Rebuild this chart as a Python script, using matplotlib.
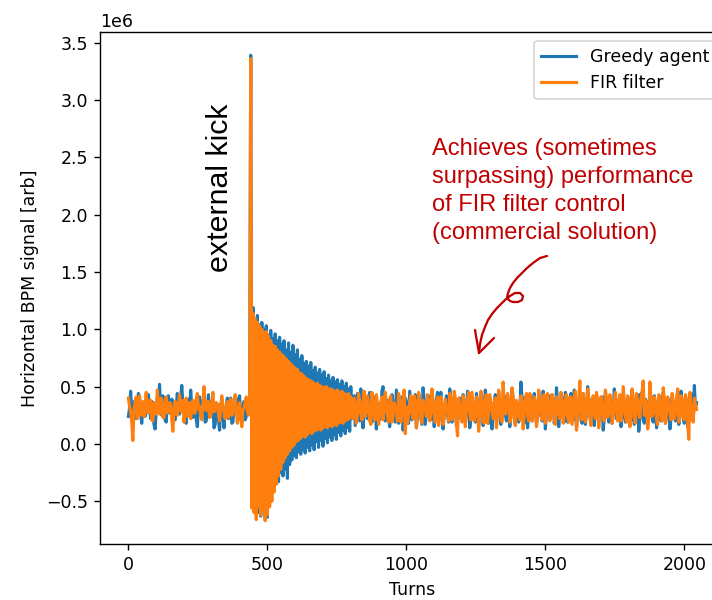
import numpy as np
import matplotlib
matplotlib.use("Agg")
import matplotlib.pyplot as plt
from matplotlib.lines import Line2D

# BPM signal in units of 1e6, one sample every 4 turns
turns = np.arange(0, 2048, 4)

# turns 0..436, before the kick
greedy_pre = [
    0.24, 0.31, 0.46, 0.28, 0.20, 0.35, 0.38, 0.22, 0.27, 0.44,
    0.41, 0.26, 0.18, 0.33, 0.35, 0.24, 0.29, 0.40, 0.43, 0.30,
    0.22, 0.37, 0.36, 0.17, 0.13, 0.29, 0.40, 0.34, 0.52, 0.31,
    0.25, 0.42, 0.33, 0.21, 0.19, 0.35, 0.42, 0.27, 0.28, 0.39,
    0.37, 0.24, 0.21, 0.32, 0.44, 0.30, 0.26, 0.40, 0.51, 0.34,
    0.30, 0.20, 0.18, 0.36, 0.39, 0.26, 0.47, 0.33, 0.23, 0.29,
    0.34, 0.22, 0.15, 0.31, 0.41, 0.28, 0.27, 0.38, 0.36, 0.19,
    0.20, 0.33, 0.43, 0.25, 0.25, 0.37, 0.32, 0.14, 0.17, 0.30,
    0.29, 0.21, 0.12, 0.34, 0.38, 0.23, 0.14, 0.30, 0.33, 0.40,
    0.22, 0.28, 0.40, 0.18, 0.19, 0.34, 0.35, 0.27, 0.26, 0.39,
    0.42, 0.24, 0.18, 0.33, 0.37, 0.21, 0.24, 0.38, 0.36, 0.30,
]
fir_pre = [
    0.40, 0.33, 0.28, 0.19, 0.03, 0.30, 0.36, 0.41, 0.22, 0.29,
    0.42, 0.25, 0.30, 0.37, 0.24, 0.33, 0.45, 0.28, 0.27, 0.38,
    0.38, 0.21, 0.20, 0.36, 0.34, 0.26, 0.47, 0.32, 0.26, 0.40,
    0.39, 0.23, 0.23, 0.35, 0.41, 0.27, 0.29, 0.36, 0.35, 0.22,
    0.11, 0.30, 0.37, 0.26, 0.25, 0.34, 0.43, 0.29, 0.28, 0.38,
    0.19, 0.31, 0.40, 0.24, 0.31, 0.36, 0.22, 0.33, 0.38, 0.27,
    0.27, 0.39, 0.44, 0.30, 0.33, 0.25, 0.21, 0.35, 0.50, 0.31,
    0.29, 0.37, 0.37, 0.23, 0.24, 0.34, 0.45, 0.28, 0.30, 0.36,
    0.35, 0.26, 0.20, 0.31, 0.42, 0.33, 0.28, 0.22, 0.33, 0.37,
    0.23, 0.30, 0.39, 0.25, 0.26, 0.35, 0.43, 0.29, 0.18, 0.27,
    0.36, 0.24, 0.15, 0.30, 0.31, 0.37, 0.41, 0.29, 0.25, 0.33,
]

# turn 440, the kick itself
greedy_peak = [3.39]
fir_peak = [3.36]

# turns 444..800, damped oscillation after the kick
greedy_ring = [
    -0.52, 1.19, -0.58, 1.08, -0.47, 1.12, -0.60, 1.04, -0.63, 1.06,
    -0.52, 1.00, -0.65, 1.03, -0.64, 0.95, -0.45, 0.99, -0.42, 0.92,
    -0.40, 0.96, -0.35, 0.90, -0.33, 0.93, -0.25, 0.87, -0.28, 0.90,
    -0.22, 0.82, -0.30, 0.88, -0.18, 0.80, -0.14, 0.86, -0.10, 0.78,
    -0.12, 0.82, -0.07, 0.74, -0.09, 0.77, -0.05, 0.70, -0.08, 0.72,
    -0.03, 0.68, -0.06, 0.71, -0.01, 0.64, -0.05, 0.67, 0.02, 0.62,
    -0.03, 0.65, 0.03, 0.60, -0.02, 0.63, 0.05, 0.57, 0.01, 0.60,
    0.06, 0.55, 0.03, 0.58, 0.08, 0.54, 0.04, 0.56, 0.10, 0.52,
    0.07, 0.55, 0.12, 0.50, 0.09, 0.53, 0.14, 0.48, 0.11, 0.50,
]
fir_ring = [
    -0.56, 1.14, -0.60, 1.09, -0.66, 1.06, -0.55, 1.03, -0.62, 1.00,
    -0.58, 0.97, -0.67, 0.98, -0.62, 0.94, -0.55, 0.90, -0.50, 0.86,
    -0.42, 0.85, -0.35, 0.82, -0.28, 0.80, -0.22, 0.78, -0.16, 0.76,
    -0.12, 0.74, -0.09, 0.72, -0.06, 0.70, -0.03, 0.68, -0.01, 0.66,
    0.02, 0.65, 0.03, 0.62, 0.05, 0.61, 0.07, 0.59, 0.06, 0.57,
    0.08, 0.56, 0.10, 0.55, 0.09, 0.54, 0.11, 0.52, 0.12, 0.53,
    0.13, 0.51, 0.12, 0.50, 0.14, 0.49, 0.15, 0.50, 0.14, 0.48,
    0.16, 0.48, 0.15, 0.47, 0.17, 0.46, 0.16, 0.47, 0.18, 0.45,
    0.19, 0.46, 0.18, 0.44, 0.20, 0.43, 0.21, 0.44, 0.22, 0.41,
]

# turns 804..2044, after damping
greedy_post = [
    0.22, 0.36, 0.42, 0.16, 0.30, 0.44, 0.25, 0.20, 0.48, 0.33,
    0.14, 0.27, 0.39, 0.31, 0.22, 0.40, 0.45, 0.26, 0.19, 0.35,
    0.41, 0.29, 0.13, 0.33, 0.35, 0.21, 0.27, 0.46, 0.50, 0.28,
    0.20, 0.37, 0.38, 0.24, 0.15, 0.30, 0.43, 0.36, 0.24, 0.19,
    0.47, 0.32, 0.18, 0.26, 0.33, 0.41, 0.12, 0.23, 0.40, 0.37,
    0.26, 0.18, 0.46, 0.33, 0.21, 0.29, 0.37, 0.43, 0.14, 0.25,
    0.44, 0.34, 0.23, 0.17, 0.49, 0.38, 0.17, 0.27, 0.36, 0.42,
    0.28, 0.21, 0.42, 0.35, 0.15, 0.24, 0.39, 0.45, 0.20, 0.31,
    0.45, 0.26, 0.13, 0.30, 0.34, 0.42, 0.25, 0.19, 0.48, 0.36,
    0.19, 0.28, 0.41, 0.33, 0.16, 0.24, 0.37, 0.40, 0.22, 0.30,
    0.43, 0.35, 0.18, 0.27, 0.46, 0.39, 0.14, 0.22, 0.38, 0.33,
    0.27, 0.19, 0.44, 0.37, 0.20, 0.29, 0.35, 0.41, 0.16, 0.26,
    0.47, 0.36, 0.23, 0.18, 0.40, 0.31, 0.13, 0.25, 0.36, 0.43,
    0.21, 0.30, 0.45, 0.34, 0.17, 0.23, 0.39, 0.42, 0.26, 0.20,
    0.42, 0.33, 0.15, 0.28, 0.48, 0.38, 0.22, 0.17, 0.37, 0.31,
    0.19, 0.26, 0.54, 0.40, 0.24, 0.18, 0.41, 0.35, 0.14, 0.27,
    0.36, 0.41, 0.20, 0.29, 0.44, 0.32, 0.17, 0.24, 0.39, 0.36,
    0.25, 0.20, 0.46, 0.34, 0.13, 0.27, 0.35, 0.42, 0.22, 0.30,
    0.43, 0.37, 0.18, 0.25, 0.49, 0.33, 0.15, 0.28, 0.38, 0.41,
    0.23, 0.19, 0.45, 0.36, 0.19, 0.26, 0.40, 0.44, 0.26, 0.21,
    0.47, 0.34, 0.14, 0.29, 0.37, 0.40, 0.21, 0.18, 0.44, 0.32,
    0.17, 0.27, 0.50, 0.38, 0.24, 0.20, 0.39, 0.35, 0.16, 0.28,
    0.42, 0.36, 0.20, 0.25, 0.36, 0.41, 0.12, 0.23, 0.45, 0.33,
    0.25, 0.19, 0.40, 0.37, 0.18, 0.27, 0.48, 0.34, 0.22, 0.29,
    0.37, 0.42, 0.15, 0.24, 0.43, 0.31, 0.19, 0.26, 0.41, 0.38,
    0.24, 0.20, 0.46, 0.35, 0.17, 0.28, 0.38, 0.43, 0.11, 0.25,
    0.44, 0.33, 0.21, 0.18, 0.39, 0.36, 0.16, 0.27, 0.47, 0.40,
    0.23, 0.19, 0.42, 0.34, 0.14, 0.26, 0.36, 0.41, 0.20, 0.30,
    0.45, 0.35, 0.18, 0.24, 0.40, 0.37, 0.13, 0.22, 0.43, 0.34,
    0.25, 0.20, 0.38, 0.41, 0.17, 0.27, 0.46, 0.36, 0.22, 0.18,
    0.41, 0.33, 0.15, 0.26, 0.39, 0.44, 0.24, 0.20, 0.51, 0.30,
    0.36,
]
fir_post = [
    0.31, 0.22, 0.40, 0.35, 0.18, 0.26, 0.44, 0.37, 0.27, 0.21,
    0.37, 0.46, 0.24, 0.29, 0.42, 0.33, 0.20, 0.17, 0.45, 0.38,
    0.26, 0.21, 0.43, 0.36, 0.17, 0.28, 0.35, 0.41, 0.21, 0.30,
    0.45, 0.34, 0.25, 0.19, 0.39, 0.42, 0.19, 0.24, 0.36, 0.31,
    0.28, 0.20, 0.44, 0.38, 0.19, 0.27, 0.40, 0.47, 0.09, 0.32,
    0.18, 0.26, 0.37, 0.42, 0.27, 0.22, 0.42, 0.35, 0.14, 0.29,
    0.45, 0.39, 0.22, 0.18, 0.38, 0.33, 0.30, 0.24, 0.43, 0.36,
    0.20, 0.28, 0.48, 0.37, 0.25, 0.19, 0.36, 0.41, 0.16, 0.26,
    0.41, 0.35, 0.17, 0.22, 0.39, 0.31, 0.28, 0.20, 0.44, 0.38,
    0.21, 0.27, 0.46, 0.40, 0.17, 0.07, 0.40, 0.34, 0.26, 0.19,
    0.42, 0.37, 0.15, 0.29, 0.38, 0.45, 0.27, 0.21, 0.45, 0.33,
    0.20, 0.26, 0.41, 0.36, 0.11, 0.23, 0.46, 0.39, 0.24, 0.18,
    0.39, 0.43, 0.18, 0.27, 0.43, 0.36, 0.29, 0.22, 0.36, 0.40,
    0.14, 0.25, 0.47, 0.38, 0.22, 0.19, 0.54, 0.34, 0.26, 0.30,
    0.44, 0.37, 0.19, 0.24, 0.49, 0.41, 0.23, 0.16, 0.38, 0.35,
    0.25, 0.21, 0.42, 0.37, 0.13, 0.27, 0.38, 0.44, 0.25, 0.20,
    0.44, 0.36, 0.20, 0.28, 0.41, 0.34, 0.15, 0.24, 0.47, 0.39,
    0.27, 0.21, 0.39, 0.43, 0.18, 0.26, 0.44, 0.36, 0.20, 0.29,
    0.43, 0.38, 0.22, 0.17, 0.41, 0.35, 0.27, 0.22, 0.45, 0.37,
    0.18, 0.26, 0.40, 0.43, 0.24, 0.19, 0.40, 0.41, 0.17, 0.28,
    0.40, 0.46, 0.12, 0.23, 0.38, 0.55, 0.29, 0.21, 0.44, 0.37,
    0.19, 0.27, 0.48, 0.40, 0.24, 0.16, 0.37, 0.42, 0.27, 0.22,
    0.45, 0.38, 0.14, 0.26, 0.41, 0.34, 0.23, 0.20, 0.47, 0.39,
    0.23, 0.28, 0.43, 0.36, 0.18, 0.25, 0.39, 0.45, 0.28, 0.20,
    0.36, 0.43, 0.20, 0.27, 0.50, 0.38, 0.25, 0.19, 0.42, 0.36,
    0.15, 0.26, 0.48, 0.40, 0.22, 0.18, 0.44, 0.37, 0.27, 0.23,
    0.40, 0.46, 0.55, 0.25, 0.38, 0.34, 0.13, 0.22, 0.54, 0.38,
    0.24, 0.28, 0.41, 0.36, 0.21, 0.17, 0.43, 0.37, 0.26, 0.20,
    0.49, 0.39, 0.18, 0.26, 0.41, 0.33, 0.29, 0.21, 0.44, 0.36,
    0.22, 0.27, 0.40, 0.48, 0.19, 0.25, 0.42, 0.36, 0.24, 0.21,
    0.43, 0.38, 0.17, 0.04, 0.45, 0.31, 0.23, 0.19, 0.40, 0.34,
    0.30,
]

greedy = np.array(greedy_pre + greedy_peak + greedy_ring + greedy_post) * 1e6
fir = np.array(fir_pre + fir_peak + fir_ring + fir_post) * 1e6

W, H, DPI = 712, 600, 125
RED = "#c00000"
ARIAL = ["Liberation Sans", "DejaVu Sans"]


def px(x, y):
    # pixel (from top-left) -> figure fraction
    return x / W, 1 - y / H


fig = plt.figure(figsize=(W / DPI, H / DPI), dpi=DPI)
ax = fig.add_axes([100 / W, 56 / H, 625 / W, 512 / H])

ax.plot(turns, greedy, lw=1.8, label="Greedy agent")
ax.plot(turns, fir, lw=1.8, label="FIR filter")
ax.set_xlabel("Turns")
ax.set_ylabel("Horizontal BPM signal [arb]")
ax.set_xticks([0, 500, 1000, 1500, 2000])
ax.legend(loc="upper right")

# slide annotations
fig.text(*px(220, 188), "external kick", rotation=90, ha="center", va="center",
         fontsize=17.5, family=ARIAL, color="black")
fig.text(*px(432, 138),
         "Achieves (sometimes\nsurpassing) performance\nof FIR filter control\n(commercial solution)",
         ha="left", va="top", fontsize=13.6, color=RED, linespacing=1.36,
         family=ARIAL)

# hand-drawn curly arrow
curve = [(547, 256), (540, 258), (533, 263), (527, 268), (522, 273), (517, 278),
         (513, 283), (510, 288), (508, 293), (507, 298), (510, 301), (513, 302),
         (518, 302), (522, 300), (523, 296), (520, 293), (515, 293), (510, 296),
         (505, 300), (501, 304), (497, 308), (492, 314), (488, 320), (485, 327),
         (482, 335), (480, 344), (479, 353)]
head = [(475, 330), (479, 353), (494, 338)]
for pts in (curve, head):
    xy = [px(x, y) for x, y in pts]
    fig.add_artist(Line2D([p[0] for p in xy], [p[1] for p in xy],
                          transform=fig.transFigure, color=RED, lw=1.3,
                          solid_capstyle="round", solid_joinstyle="round"))

fig.savefig("out.png", dpi=DPI)
